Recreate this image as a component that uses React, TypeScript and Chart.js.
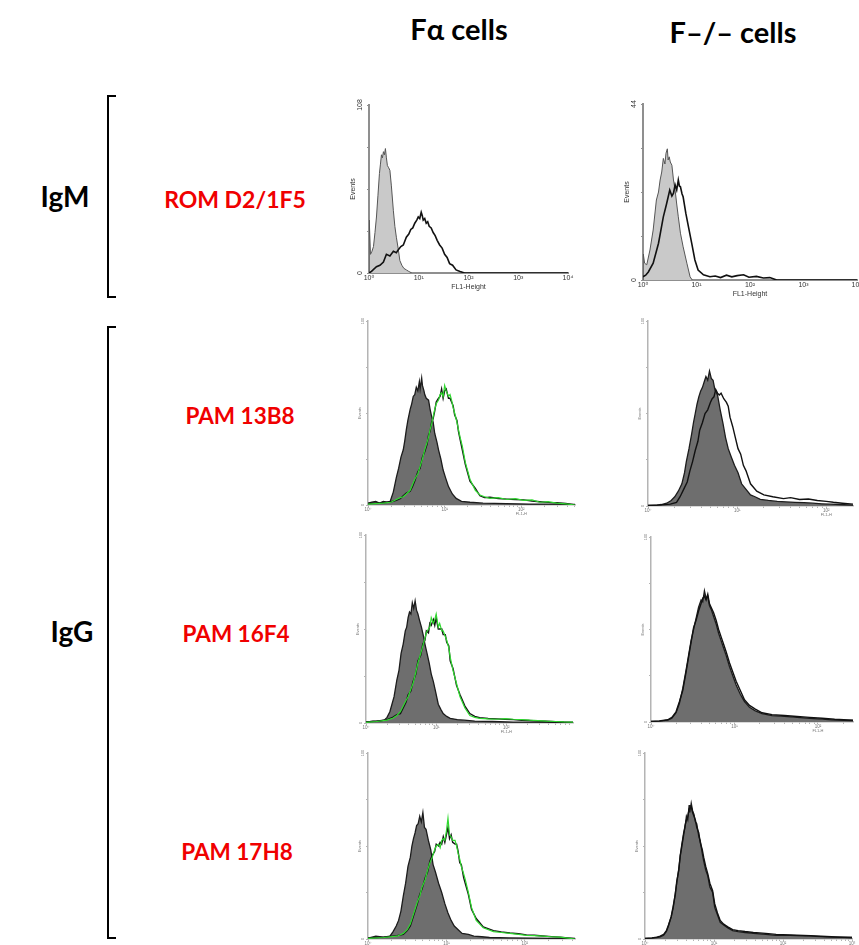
import React, { useEffect, useRef } from 'react';
import { Chart, registerables } from 'chart.js';

Chart.register(...registerables);

const FONT = "'Liberation Sans', 'DejaVu Sans', Arial, sans-serif";
Chart.defaults.font.family = FONT;

// ---------- tick labels ----------
const decadeLabels = ['10⁰', '10¹', '10²', '10³', '10⁴'];

// ---------- IgM, Fα cells (ROM D2/1F5) ----------
const p1GreyX = [0, 0.005, 0.03, 0.06, 0.09, 0.12, 0.15, 0.18, 0.21, 0.23, 0.25, 0.27, 0.29, 0.31, 0.33, 0.35, 0.37, 0.39, 0.42, 0.45, 0.49, 0.52, 0.55, 0.59, 0.62, 0.66, 0.7, 0.75, 0.8, 0.86];
const p1GreyY = [0, 34, 12, 14, 17, 26, 36, 50, 64, 70, 76, 74, 78, 76, 80, 74, 69, 68, 66, 56, 40, 30, 23, 15, 8, 5, 3, 2, 1, 0];
const p1BlackX = [0, 0.05, 0.15, 0.22, 0.29, 0.35, 0.42, 0.49, 0.55, 0.59, 0.64, 0.69, 0.75, 0.8, 0.84, 0.88, 0.92, 0.96, 0.99, 1.02, 1.05, 1.07, 1.09, 1.12, 1.15, 1.18, 1.21, 1.25, 1.29, 1.33, 1.37, 1.42, 1.47, 1.52, 1.57, 1.62, 1.68, 1.75, 1.83, 1.92, 4];
const p1BlackY = [0, 1, 4, 5, 7, 12, 11, 14, 13, 15, 17, 18, 23, 25, 28, 29, 32, 34, 36, 35, 39, 37, 34, 35, 32, 33, 30, 29, 26, 24, 21, 18, 16, 12, 10, 6, 5, 2, 1, 0, 0];

// ---------- IgM, F-/- cells ----------
const p2GreyX = [0, 0.005, 0.03, 0.07, 0.13, 0.19, 0.25, 0.29, 0.32, 0.35, 0.38, 0.41, 0.43, 0.455, 0.47, 0.49, 0.51, 0.54, 0.57, 0.6, 0.63, 0.66, 0.7, 0.75, 0.82, 0.88, 0.92];
const p2GreyY = [0, 6.5, 4.2, 3.8, 7.5, 12.5, 20, 22, 25, 27, 30.4, 29, 31.7, 32.8, 30, 30.8, 29.5, 28.7, 25, 22.5, 19, 15.8, 11.7, 8.3, 4.2, 0.8, 0];
const p2BlackX = [0, 0.05, 0.1, 0.19, 0.29, 0.38, 0.44, 0.5, 0.54, 0.57, 0.6, 0.63, 0.66, 0.68, 0.7, 0.73, 0.75, 0.8, 0.85, 0.91, 0.97, 1.03, 1.13, 1.25, 1.35, 1.45, 1.56, 1.66, 1.76, 1.88, 1.98, 2.12, 2.25, 2.37, 2.5, 4];
const p2BlackY = [0.8, 1.2, 2, 4.2, 9.2, 15.8, 19, 22.5, 21, 21.7, 23.8, 22.5, 25, 23.5, 23.3, 21.5, 20.8, 16.7, 13.3, 9.2, 5, 2.5, 1.3, 0.8, 1.0, 0.6, 1.2, 0.8, 1.1, 1.3, 0.7, 0.9, 0.5, 0.6, 0, 0];

// ---------- IgG PAM 13B8, Fα ----------
const p3GreyX = [0, 0.05, 0.1, 0.15, 0.2, 0.25, 0.29, 0.33, 0.37, 0.4, 0.43, 0.46, 0.48, 0.5, 0.52, 0.55, 0.57, 0.59, 0.61, 0.63, 0.65, 0.67, 0.68, 0.7, 0.71, 0.73, 0.74, 0.76, 0.79, 0.81, 0.83, 0.85, 0.87, 0.9, 0.92, 0.95, 0.98, 1.01, 1.05, 1.1, 1.15, 1.22, 1.33, 1.5, 1.8, 2.1, 2.4, 2.7];
const p3GreyY = [1, 1.5, 2, 1, 2, 1.5, 2, 7, 15, 20, 26, 30, 35, 41, 46, 52, 55, 59, 60, 64, 62, 67, 63, 69, 65, 62, 60, 58, 57, 52, 48, 45, 39, 34, 30, 25, 19, 15, 10, 6, 3.6, 2, 1.5, 1, 0.8, 0.5, 0.5, 0.3];
const p3LineX = [0, 0.1, 0.2, 0.3, 0.37, 0.42, 0.46, 0.5, 0.55, 0.58, 0.61, 0.65, 0.68, 0.71, 0.74, 0.77, 0.79, 0.81, 0.83, 0.85, 0.87, 0.89, 0.92, 0.94, 0.96, 0.98, 1.0, 1.02, 1.05, 1.07, 1.09, 1.11, 1.13, 1.16, 1.18, 1.2, 1.23, 1.27, 1.33, 1.4, 1.46, 1.52, 1.59, 1.7, 1.81, 1.92, 2.03, 2.14, 2.24, 2.35, 2.46, 2.58, 2.7];
const p3GreenY = [0.5, 0.8, 1, 1.5, 3, 4, 4.5, 6, 8, 11, 14, 17, 21, 25, 30, 34, 37, 41, 44, 48, 52, 55, 57, 60, 61, 59, 65, 62, 59, 60, 57, 53, 50, 45, 41, 37, 32, 23, 14, 8, 5.4, 4.5, 3.6, 4, 3, 3.5, 2.5, 2.8, 1.5, 1.8, 1, 0.6, 0];
const p3BlackY = [0.8, 1, 1.2, 1.8, 2.5, 3.5, 5, 6.5, 7.5, 10, 13, 18, 20, 26, 29, 33, 38, 40, 45, 47, 51, 56, 58, 59, 63, 58, 62, 63, 58, 58, 56, 54, 49, 46, 40, 36, 30, 22, 13, 9, 5, 4, 4.2, 3.5, 3.2, 3, 2.8, 2.2, 1.8, 1.4, 1.2, 0.8, 0];

// ---------- IgG PAM 13B8, F-/- ----------
const p4GreyX = [0, 0.1, 0.15, 0.21, 0.26, 0.3, 0.34, 0.38, 0.41, 0.43, 0.46, 0.49, 0.51, 0.53, 0.55, 0.57, 0.59, 0.61, 0.63, 0.65, 0.67, 0.69, 0.71, 0.73, 0.75, 0.78, 0.81, 0.84, 0.87, 0.9, 0.93, 0.97, 1.01, 1.05, 1.1, 1.15, 1.2, 1.26, 1.35, 1.45, 1.55, 1.65, 1.75, 1.85, 1.95, 2.05, 2.15, 2.3];
const p4GreyY = [0.3, 0.5, 0.8, 1.5, 3, 5, 8, 12, 18, 24, 31, 39, 45, 50, 55, 59, 62, 64, 67, 70, 68, 73, 69, 68, 63, 60, 52, 45, 37, 31, 27, 22, 18, 12, 9, 6, 5, 3.6, 3, 2.5, 2.2, 2, 1.8, 1.5, 1.2, 1, 0.8, 0.5];
const p4BlackX = [0, 0.15, 0.25, 0.32, 0.36, 0.4, 0.44, 0.47, 0.5, 0.53, 0.56, 0.58, 0.61, 0.64, 0.67, 0.7, 0.72, 0.74, 0.76, 0.78, 0.8, 0.82, 0.85, 0.88, 0.9, 0.92, 0.95, 0.98, 1.01, 1.04, 1.07, 1.1, 1.15, 1.22, 1.3, 1.4, 1.52, 1.6, 1.7, 1.8, 1.9, 2.0, 2.08, 2.18, 2.3];
const p4BlackY = [0.3, 0.6, 1, 2, 5, 9, 13, 19, 24, 30, 35, 41, 45, 50, 52, 56, 58, 59, 63, 61, 60, 61, 58, 56, 54, 48, 43, 37, 31, 28, 22, 19, 12, 8, 6, 5, 4, 4.5, 3.5, 3.8, 3, 2.5, 2, 1.5, 1];

// ---------- IgG PAM 16F4, Fα ----------
const p5GreyX = [0, 0.1, 0.2, 0.26, 0.3, 0.34, 0.37, 0.4, 0.44, 0.47, 0.5, 0.53, 0.56, 0.58, 0.6, 0.62, 0.64, 0.66, 0.68, 0.7, 0.72, 0.74, 0.76, 0.79, 0.82, 0.84, 0.87, 0.9, 0.93, 0.96, 0.99, 1.03, 1.07, 1.1, 1.15, 1.2, 1.3, 1.4, 1.55, 1.8, 2.1, 2.4, 2.7, 2.95];
const p5GreyY = [0.5, 1, 1, 1.5, 3, 6, 10, 14, 23, 28, 37, 42, 49, 51, 56, 59, 58, 64, 61, 65, 60, 58, 55, 51, 46, 42, 37, 32, 26, 22, 17, 10, 7, 5, 3.5, 2.5, 1.8, 1.5, 1, 0.8, 0.5, 0.5, 0.3, 0.2];
const p5LineX = [0, 0.15, 0.3, 0.38, 0.44, 0.49, 0.53, 0.57, 0.6, 0.64, 0.67, 0.71, 0.74, 0.78, 0.81, 0.84, 0.86, 0.89, 0.91, 0.93, 0.96, 0.98, 1.0, 1.03, 1.05, 1.08, 1.1, 1.13, 1.15, 1.18, 1.2, 1.24, 1.29, 1.34, 1.41, 1.48, 1.55, 1.62, 1.74, 1.86, 1.98, 2.1, 2.22, 2.33, 2.45, 2.57, 2.7, 2.82, 2.95];
const p5GreenY = [0.3, 0.8, 1.5, 2.5, 4, 6, 9, 12, 14, 18, 21, 27, 32, 37, 41, 45, 48, 50, 51, 56, 53, 55, 58, 51, 53, 49, 49, 46, 44, 40, 35, 28, 21, 14, 8, 4, 3, 2.5, 2.2, 2, 2.3, 2, 1.8, 1.5, 1.3, 1, 0.8, 0.6, 0.5];
const p5BlackY = [0.5, 1, 1.8, 3, 4.5, 5, 8, 11, 15, 17, 22, 26, 33, 36, 42, 44, 49, 48, 53, 52, 55, 52, 56, 50, 50, 50, 47, 47, 43, 41, 33, 29, 20, 15, 9, 5, 3.5, 2.8, 2.4, 2.2, 2, 1.8, 1.5, 1.3, 1.1, 0.9, 0.7, 0.5, 0.4];

// ---------- IgG PAM 16F4, F-/- ----------
const p6X = [0, 0.1, 0.2, 0.25, 0.3, 0.34, 0.38, 0.42, 0.45, 0.48, 0.51, 0.54, 0.57, 0.6, 0.62, 0.64, 0.66, 0.68, 0.7, 0.72, 0.75, 0.78, 0.81, 0.84, 0.87, 0.9, 0.94, 0.98, 1.02, 1.07, 1.12, 1.18, 1.25, 1.33, 1.45, 1.6, 1.75, 1.9, 2.05, 2.2, 2.42];
const p6GreyY = [0.3, 0.5, 1, 2, 5, 10, 18, 28, 36, 44, 50, 56, 62, 66, 65, 71, 67, 68, 63, 61, 57, 53, 48, 44, 40, 36, 30, 25, 20, 15, 11, 8, 6, 4.5, 3.5, 3, 2.5, 2, 1.5, 1, 0.8];
const p6BlackY = [0.3, 0.6, 1.2, 2.5, 5.5, 11, 17, 27, 35, 43, 51, 55, 60, 64, 67, 68, 66, 69, 64, 62, 59, 55, 50, 46, 42, 38, 32, 27, 22, 17, 12, 9, 7, 5, 4, 3.5, 3, 2.5, 2, 1.5, 1];

// ---------- IgG PAM 17H8, Fα ----------
const p7GreyX = [0, 0.1, 0.2, 0.28, 0.32, 0.36, 0.39, 0.42, 0.45, 0.48, 0.51, 0.54, 0.56, 0.58, 0.6, 0.62, 0.64, 0.66, 0.68, 0.7, 0.72, 0.74, 0.77, 0.8, 0.83, 0.86, 0.9, 0.94, 0.98, 1.02, 1.06, 1.1, 1.15, 1.2, 1.28, 1.35, 1.45, 1.55, 1.8, 2.1, 2.4, 2.64];
const p7GreyY = [0.5, 1.5, 1, 1.5, 4, 7, 10, 15, 23, 30, 39, 44, 50, 54, 57, 61, 62, 66, 63, 68, 60, 59, 53, 48, 40, 36, 30, 25, 19, 14, 10, 7, 5, 3, 2.5, 1.5, 1.2, 0.8, 0.6, 0.5, 0.3, 0.2];
const p7LineX = [0, 0.2, 0.37, 0.45, 0.5, 0.54, 0.57, 0.6, 0.63, 0.66, 0.69, 0.73, 0.76, 0.79, 0.82, 0.85, 0.87, 0.9, 0.92, 0.94, 0.96, 0.98, 1.0, 1.02, 1.04, 1.06, 1.08, 1.11, 1.13, 1.15, 1.17, 1.19, 1.22, 1.24, 1.28, 1.32, 1.38, 1.47, 1.6, 1.7, 1.81, 1.92, 2.02, 2.12, 2.23, 2.34, 2.45, 2.55, 2.64];
const p7GreenY = [0.3, 0.8, 1.5, 3, 5, 8, 12, 16, 20, 23, 28, 32, 37, 41, 44, 48, 50, 51, 49, 53, 54, 53, 58, 65, 56, 55, 53, 53, 50, 46, 43, 39, 35, 32, 25, 17, 10, 6, 4, 3.5, 3, 2.5, 2, 1.8, 1.5, 1.2, 1, 0.5, 0];
const p7BlackY = [0.5, 1, 1.8, 2.5, 4.5, 7, 11, 15, 19, 24, 27, 33, 36, 42, 45, 47, 51, 50, 52, 51, 55, 52, 56, 60, 54, 56, 52, 51, 51, 47, 41, 40, 33, 30, 24, 16, 11, 6.5, 4.5, 3.8, 3.2, 2.8, 2.2, 2, 1.6, 1.3, 1, 0.6, 0.3];

// ---------- IgG PAM 17H8, F-/- ----------
const p8X = [0, 0.1, 0.17, 0.22, 0.27, 0.31, 0.34, 0.38, 0.41, 0.44, 0.46, 0.49, 0.51, 0.53, 0.56, 0.58, 0.6, 0.62, 0.64, 0.65, 0.67, 0.69, 0.71, 0.73, 0.75, 0.78, 0.8, 0.83, 0.85, 0.88, 0.91, 0.94, 0.98, 1.01, 1.05, 1.09, 1.14, 1.2, 1.27, 1.35, 1.45, 1.57, 1.75, 1.9, 2.1, 2.4, 2.7, 3.0];
const p8GreyY = [0.3, 0.5, 0.8, 1.2, 2, 4, 7, 12, 17, 25, 30, 38, 44, 50, 57, 60, 66, 64, 72, 68, 73, 69, 67, 63, 62, 55, 53, 46, 42, 37, 34, 28, 25, 17, 13, 9, 7.5, 6, 4.5, 4, 3.5, 3, 2.5, 2, 2, 1.5, 1, 0.8];
const p8BlackY = [0.3, 0.6, 1, 1.5, 2.5, 4.5, 7.5, 12, 18, 24, 31, 37, 45, 49, 56, 61, 64, 66, 70, 70, 71, 68, 66, 64, 60, 57, 52, 48, 44, 39, 35, 30, 26, 19, 14, 10, 8, 6.5, 5, 4.5, 4, 3.5, 3, 2.5, 2.2, 1.8, 1.2, 0.8];

type Series = [number[], number[]] | null;
type Spec = {
  kind: 'igm' | 'igg';
  axisX: number; top: number; bottom: number; right: number;
  xMax: number; yMax: number;
  grey: Series; black: Series; green: Series;
};

const PANELS: Spec[] = [
  { kind: 'igm', axisX: 369, top: 105, bottom: 273, right: 568, xMax: 4, yMax: 108, grey: [p1GreyX, p1GreyY], black: [p1BlackX, p1BlackY], green: null },
  { kind: 'igm', axisX: 643, top: 104, bottom: 280, right: 857, xMax: 4, yMax: 44, grey: [p2GreyX, p2GreyY], black: [p2BlackX, p2BlackY], green: null },
  { kind: 'igg', axisX: 368, top: 321, bottom: 505, right: 575, xMax: 2.7, yMax: 100, grey: [p3GreyX, p3GreyY], black: [p3LineX, p3BlackY], green: [p3LineX, p3GreenY] },
  { kind: 'igg', axisX: 648, top: 321, bottom: 506, right: 853, xMax: 2.3, yMax: 100, grey: [p4GreyX, p4GreyY], black: [p4BlackX, p4BlackY], green: null },
  { kind: 'igg', axisX: 366, top: 535, bottom: 723, right: 573, xMax: 2.95, yMax: 100, grey: [p5GreyX, p5GreyY], black: [p5LineX, p5BlackY], green: [p5LineX, p5GreenY] },
  { kind: 'igg', axisX: 651, top: 537, bottom: 722, right: 853, xMax: 2.42, yMax: 100, grey: [p6X, p6GreyY], black: [p6X, p6BlackY], green: null },
  { kind: 'igg', axisX: 368, top: 753, bottom: 939, right: 575, xMax: 2.64, yMax: 100, grey: [p7GreyX, p7GreyY], black: [p7LineX, p7BlackY], green: [p7LineX, p7GreenY] },
  { kind: 'igg', axisX: 645, top: 753, bottom: 939, right: 852, xMax: 3.0, yMax: 100, grey: [p8X, p8GreyY], black: [p8X, p8BlackY], green: null },
];

const toPoints = (s: [number[], number[]]) => s[0].map((x, i) => ({ x, y: s[1][i] }));

function Histo({ spec }: { spec: Spec }) {
  const ref = useRef<HTMLCanvasElement>(null);
  const big = spec.kind === 'igm';
  const yw = big ? 20 : 11;
  const padT = big ? 9 : 6;
  const padR = big ? 9 : 5;
  const xh = big ? 18 : 14;
  const w = yw + (spec.right - spec.axisX) + padR;
  const h = padT + (spec.bottom - spec.top) + xh;

  useEffect(() => {
    const axisColor = big ? '#8f8f8f' : '#b4b4b4';
    const textColor = big ? '#333' : '#777';
    const datasets: any[] = [];
    if (spec.green) {
      datasets.push({ data: toPoints(spec.green), borderColor: '#2fd92f', borderWidth: 1.2, fill: false, pointRadius: 0, tension: 0, order: 1 });
    }
    if (spec.black) {
      datasets.push({ data: toPoints(spec.black), borderColor: '#111', borderWidth: big ? 1.6 : 1.4, fill: false, pointRadius: 0, tension: 0, order: 2 });
    }
    if (spec.grey) {
      datasets.push({
        data: toPoints(spec.grey),
        borderColor: big ? '#555' : '#1c1c1c', borderWidth: big ? 1 : 1.3,
        backgroundColor: big ? '#c9c9c9' : '#6e6e6e',
        fill: 'origin', pointRadius: 0, tension: 0, order: 3,
      });
    }
    const tickVals: number[] = [];
    for (let d = 0; d <= Math.floor(spec.xMax + 1e-9); d++) {
      tickVals.push(d);
      if (!big) {
        for (let k = 2; k <= 9; k++) {
          const v = d + Math.log10(k);
          if (v < spec.xMax) tickVals.push(v);
        }
      }
    }
    const annot = {
      id: 'annot',
      afterDraw(chart: any) {
        const { ctx } = chart;
        const xs = chart.scales.x, ys = chart.scales.y;
        ctx.save();
        ctx.fillStyle = textColor;
        ctx.font = `${big ? 7 : 4}px ${FONT}`;
        ctx.textAlign = 'center';
        ctx.textBaseline = 'middle';
        const lbls: [number, string][] = [[spec.yMax, String(spec.yMax)], [0, '0']];
        lbls.forEach(([v, t]) => {
          ctx.save();
          ctx.translate(xs.left - (big ? 9 : 5), ys.getPixelForValue(v));
          ctx.rotate(-Math.PI / 2);
          ctx.fillText(t, 0, 0);
          ctx.restore();
        });
        if (!big) ctx.fillText('FL1-H', xs.getPixelForValue(2), ys.bottom + 9);
        ctx.restore();
      },
    };
    const chart = new Chart(ref.current as HTMLCanvasElement, {
      type: 'line',
      data: { datasets },
      options: {
        responsive: false,
        maintainAspectRatio: false,
        animation: false,
        events: [],
        layout: { padding: { top: padT, right: padR, left: 0, bottom: 0 } },
        plugins: { legend: { display: false }, tooltip: { enabled: false } },
        scales: {
          x: {
            type: 'linear', min: 0, max: spec.xMax,
            border: { display: true, color: axisColor, width: big ? 2 : 1.5 },
            grid: { display: true, drawOnChartArea: false, drawTicks: !big, tickLength: 2, color: axisColor, lineWidth: 1 },
            ticks: {
              autoSkip: false, maxRotation: 0, minRotation: 0, padding: big ? 1 : 0,
              color: textColor, font: { size: big ? 7 : 4.5 },
              callback: (v: any) => {
                const r = Math.round(v);
                return Math.abs(v - r) < 1e-6 ? decadeLabels[r] : '';
              },
            },
            afterBuildTicks: (s: any) => { s.ticks = tickVals.map((v) => ({ value: v })); },
            afterFit: (s: any) => { s.height = xh; },
            title: { display: big, text: 'FL1-Height', color: textColor, font: { size: 7 }, padding: 0 },
          },
          y: {
            type: 'linear', min: 0, max: spec.yMax,
            border: { display: true, color: axisColor, width: big ? 2 : 1.5 },
            grid: { display: true, drawOnChartArea: false, drawTicks: true, tickLength: 2, color: axisColor, lineWidth: 1 },
            ticks: { display: false, stepSize: spec.yMax / 4 },
            afterFit: (s: any) => { s.width = yw; },
            title: { display: true, text: 'Events', color: textColor, font: { size: big ? 7 : 4 }, padding: 0 },
          },
        },
      } as any,
      plugins: [annot],
    });
    return () => chart.destroy();
  }, []);

  return (
    <div style={{ position: 'absolute', left: spec.axisX - yw, top: spec.top - padT, width: w, height: h }}>
      <canvas ref={ref} width={w} height={h} style={{ width: w, height: h, display: 'block' }} />
    </div>
  );
}

function Label({ text, cx, cy, size, color }: { text: string; cx: number; cy: number; size: number; color: string }) {
  return (
    <div
      style={{
        position: 'absolute', left: cx - 150, width: 300, top: cy - size * 0.6,
        textAlign: 'center', fontSize: size, lineHeight: `${size * 1.2}px`,
        fontWeight: 700, color, fontFamily: 'Lato, "Open Sans", sans-serif', whiteSpace: 'nowrap',
      }}
    >
      {text}
    </div>
  );
}

function Bracket({ top, height }: { top: number; height: number }) {
  return (
    <div
      style={{
        position: 'absolute', left: 107, top, width: 9, height, boxSizing: 'border-box',
        borderLeft: '2px solid #000', borderTop: '2px solid #000', borderBottom: '2px solid #000',
      }}
    />
  );
}

export default function App() {
  return (
    <div style={{ position: 'absolute', left: 0, top: 0, width: 859, height: 945, overflow: 'hidden', background: '#fff' }}>
      <Label text="Fα cells" cx={459} cy={29} size={29} color="#000" />
      <Label text="F–/– cells" cx={733} cy={32} size={29} color="#000" />
      <Label text="IgM" cx={65} cy={197} size={28} color="#000" />
      <Label text="IgG" cx={72} cy={632} size={28} color="#000" />
      <Label text="ROM D2/1F5" cx={235} cy={200} size={23} color="#f00000" />
      <Label text="PAM 13B8" cx={240} cy={415} size={22.5} color="#f00000" />
      <Label text="PAM 16F4" cx={236} cy={633} size={22.5} color="#f00000" />
      <Label text="PAM 17H8" cx={237} cy={851} size={22.5} color="#f00000" />
      <Bracket top={95} height={203} />
      <Bracket top={326} height={613} />
      {PANELS.map((s, i) => <Histo key={i} spec={s} />)}
    </div>
  );
}
